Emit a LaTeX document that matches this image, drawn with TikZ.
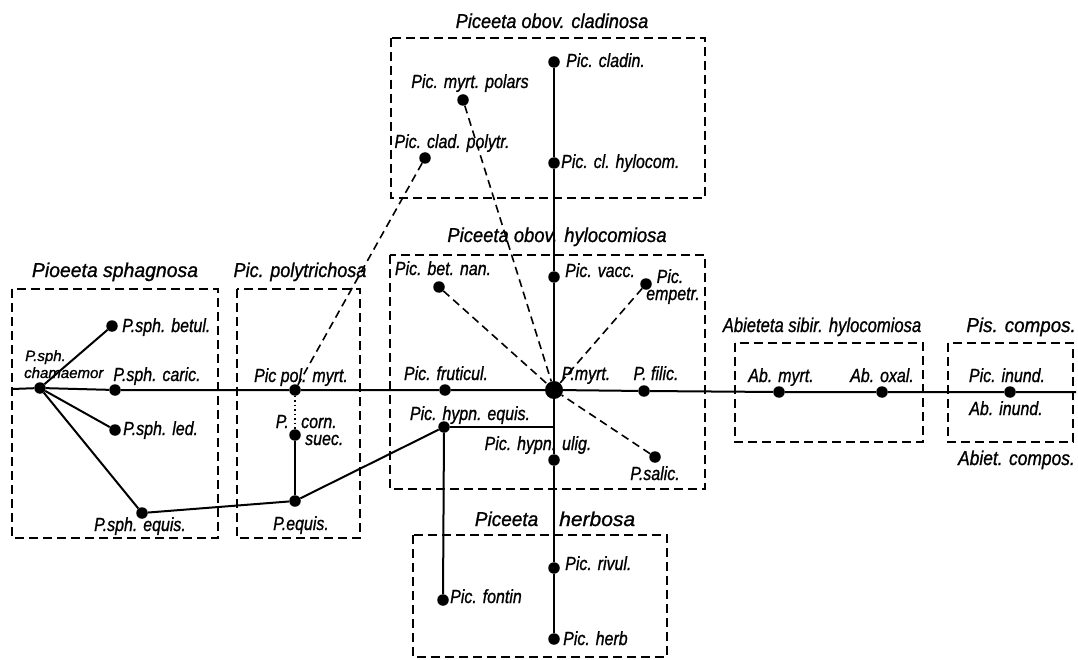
\documentclass[tikz,border=0pt]{standalone}
\usepackage{fontspec}
\usepackage{graphicx}
\setmainfont{Liberation Sans}
\newfontfamily\lblfont[FakeBold=1.1]{Liberation Sans}
\newcommand{\nx}[1]{\scalebox{0.84}[1]{#1}}
\newcommand{\sx}[2]{\scalebox{#1}[1]{#2}}
\begin{document}
\begin{tikzpicture}[x=1pt,y=-1pt,
  dot/.style={circle,fill=black,inner sep=0pt,minimum size=11.5pt},
  bigdot/.style={circle,fill=black,inner sep=0pt,minimum size=18pt},
  lab/.style={inner sep=0pt,anchor=base,font=\lblfont\fontsize{19}{17}\selectfont\itshape,align=center},
  smlab/.style={inner sep=0pt,anchor=base west,font=\lblfont\fontsize{15}{17}\selectfont\itshape},
  ttl/.style={inner sep=0pt,anchor=base,font=\lblfont\fontsize{20}{20}\selectfont\itshape},
  box/.style={draw,line width=1.5pt,dash pattern=on 9pt off 5pt},
  sol/.style={draw,line width=2pt},
  dsh/.style={draw,line width=1.6pt,dash pattern=on 8pt off 5pt},
  dtd/.style={draw,line width=1.2pt,dash pattern=on 1.5pt off 3pt}]
\useasboundingbox[fill=white] (0,0) rectangle (1078,660);

% boxes
\draw[box] (12,289) rectangle (218,538);
\draw[box] (237,289) rectangle (360,538);
\draw[box] (391,38) rectangle (705,198);
\draw[box] (390,255) rectangle (705,489);
\draw[box] (413,535) rectangle (667,657);
\draw[box] (735,343) rectangle (923,442);
\draw[box] (948,343) rectangle (1073,442);

% titles
\node[ttl] (t1) at (115,277) {\sx{0.97}{Pioeeta sphagnosa}};
\node[ttl] (t2) at (300,277) {\sx{0.9}{Pic. polytrichosa}};
\node[ttl] (t3) at (552,28) {\sx{0.91}{Piceeta obov. cladinosa}};
\node[ttl] (t4) at (557,242) {\sx{0.92}{Piceeta obov. hylocomiosa}};
\node[ttl] (t5) at (555,526) {\sx{0.95}{Piceeta}\hspace{21pt}\sx{1.05}{herbosa}};
\node[ttl] (t6) at (822,332) {\sx{0.83}{Abieteta sibir. hylocomiosa}};
\node[ttl,anchor=base east] (t7) at (1076,332) {\sx{0.94}{Pis. compos.}};
\node[ttl,anchor=base east] (t8) at (1075,465) {\sx{0.87}{Abiet. compos.}};

% dots
\coordinate (L) at (12,389);
\coordinate (R) at (1076,392);
\coordinate (J) at (554,427);
\node[dot] (cham) at (40,388) {};
\node[dot] (betul) at (112,326) {};
\node[dot] (caric) at (115,390) {};
\node[dot] (led) at (115,430) {};
\node[dot] (sphequis) at (142,513) {};
\node[dot] (polmyrt) at (295,390) {};
\node[dot] (cornsuec) at (295,435) {};
\node[dot] (pequis) at (295,501) {};
\node[dot] (cladin) at (554,62) {};
\node[dot] (clhyl) at (554,163) {};
\node[dot] (myrtpol) at (463,100) {};
\node[dot] (cladpol) at (425,158) {};
\node[dot] (betnan) at (439,287) {};
\node[dot] (vacc) at (554,277) {};
\node[dot] (empetr) at (646,284) {};
\node[dot] (frut) at (445,390) {};
\node[bigdot] (pmyrt) at (554,390) {};
\node[dot] (filic) at (644,391) {};
\node[dot] (hypneq) at (444,427) {};
\node[dot] (ulig) at (554,460) {};
\node[dot] (salic) at (655,457) {};
\node[dot] (rivul) at (554,568) {};
\node[dot] (fontin) at (443,600) {};
\node[dot] (herb) at (554,639) {};
\node[dot] (abmyrt) at (779,392) {};
\node[dot] (aboxal) at (882,392) {};
\node[dot] (inund) at (1010,392) {};

% solid connectors
\draw[sol] (L) -- (cham) -- (caric) -- (polmyrt) -- (frut) -- (pmyrt) -- (filic) -- (abmyrt) -- (aboxal) -- (inund) -- (R);
\draw[sol] (cladin) -- (clhyl) -- (vacc) -- (pmyrt) -- (J) -- (ulig) -- (rivul) -- (herb);
\draw[sol] (cham) -- (betul);
\draw[sol] (cham) -- (led);
\draw[sol] (cham) -- (sphequis);
\draw[sol] (sphequis) -- (pequis);
\draw[sol] (pequis) -- (hypneq);
\draw[sol] (pequis) -- (cornsuec);
\draw[sol] (hypneq) -- (J);
\draw[sol] (hypneq) -- (fontin);
\draw[dtd] (polmyrt) -- (cornsuec);

% dashed connectors
\draw[dsh] (cladpol) -- (polmyrt);
\draw[dsh] (myrtpol) -- (pmyrt);
\draw[dsh] (betnan) -- (pmyrt);
\draw[dsh] (empetr) -- (pmyrt);
\draw[dsh] (salic) -- (pmyrt);

% labels
\node[smlab] (lcham1) at (25,361) {P.sph.};
\node[smlab] (lcham2) at (24,378) {chamaemor};
\node[lab,anchor=base west] (lbetul) at (122,332) {\nx{P.sph. betul.}};
\node[lab] (lcaric) at (157,381) {\nx{P.sph. caric.}};
\node[lab,anchor=base west] (lled) at (123,435) {\nx{P.sph. led.}};
\node[lab] (lsphequis) at (140,531) {\nx{P.sph. equis.}};
\node[lab] (lpolmyrt) at (301,382) {\nx{Pic pol. myrt.}};
\node[lab,anchor=base east] (lcornP) at (289,428) {\nx{P.}};
\node[lab,anchor=base west] (lcorn) at (301,428) {\nx{corn.}};
\node[lab,anchor=base west] (lsuec) at (305,445) {\nx{suec.}};
\node[lab] (lpequis) at (301,530) {\nx{P.equis.}};
\node[lab,anchor=base west] (lcladin) at (566,67) {\nx{Pic. cladin.}};
\node[lab,anchor=base west] (lclhyl) at (561,168) {\nx{Pic. cl. hylocom.}};
\node[lab] (lmyrtpol) at (470,88) {\nx{Pic. myrt. polars}};
\node[lab] (lcladpol) at (452,148) {\nx{Pic. clad. polytr.}};
\node[lab] (lbetnan) at (443,275) {\nx{Pic. bet. nan.}};
\node[lab,anchor=base west] (lvacc) at (565,277) {\nx{Pic. vacc.}};
\node[lab] (lempetr1) at (670,283) {\nx{Pic.}};
\node[lab] (lempetr2) at (673,300) {\nx{empetr.}};
\node[lab] (lfrut) at (446,380) {\nx{Pic. fruticul.}};
\node[lab] (lpmyrt) at (586,380) {\nx{P.myrt.}};
\node[lab] (lfilic) at (656,380) {\nx{P. filic.}};
\node[lab] (lhypneq) at (470,420) {\nx{Pic. hypn. equis.}};
\node[lab] (lulig) at (538,450) {\nx{Pic. hypn. ulig.}};
\node[lab] (lsalic) at (655,480) {\nx{P.salic.}};
\node[lab,anchor=base west] (lrivul) at (565,570) {\nx{Pic. rivul.}};
\node[lab,anchor=base west] (lfontin) at (450,603) {\nx{Pic. fontin}};
\node[lab,anchor=base west] (lherb) at (563,645) {\nx{Pic. herb}};
\node[lab] (labmyrt) at (781,382) {\nx{Ab. myrt.}};
\node[lab] (laboxal) at (882,382) {\nx{Ab. oxal.}};
\node[lab] (linund) at (1007,382) {\nx{Pic. inund.}};
\node[lab] (labinund) at (1006,415) {\nx{Ab. inund.}};
\end{tikzpicture}
\end{document}
